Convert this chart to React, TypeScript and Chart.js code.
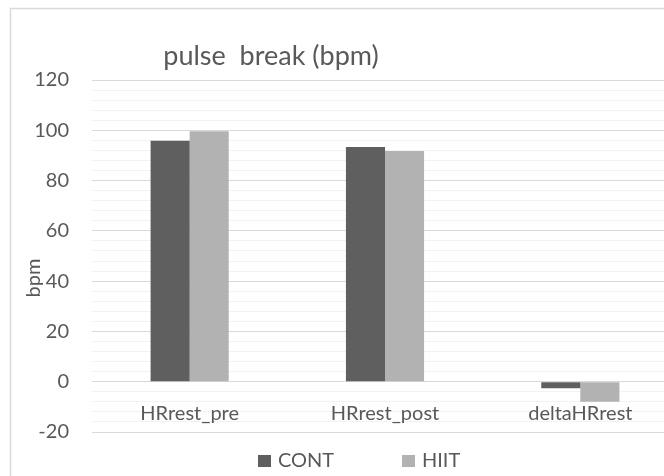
import React, { useEffect, useRef } from "react";
import { Chart, registerables } from "chart.js";

Chart.register(...registerables);

const categories = ["HRrest_pre", "HRrest_post", "deltaHRrest"];
const contValues = [95.8, 93.4, -2.6];
const hiitValues = [99.6, 91.8, -8.0];
const seriesNames = ["CONT", "HIIT"];
const seriesColors = ["#5f5f5f", "#b2b2b2"];
const yMin = -20;
const yMax = 120;
const yMinorStep = 4;
const yMajorStep = 20;
const chartTitle = "pulse  break (bpm)";
const yAxisTitle = "bpm";

const FONT = "Lato";
const TEXT = "#595959";

const decorPlugin = {
  id: "decor",
  beforeDraw(chart: any) {
    const { ctx } = chart;
    ctx.save();
    ctx.fillStyle = "#ffffff";
    ctx.fillRect(0, 0, chart.width, chart.height);
    ctx.strokeStyle = "#d9d9d9";
    ctx.lineWidth = 1.5;
    ctx.strokeRect(10.5, 8.5, chart.width + 40, chart.height + 40);
    ctx.restore();
  },
  afterDraw(chart: any) {
    const { ctx } = chart;
    ctx.save();
    ctx.fillStyle = TEXT;
    // title
    ctx.font = `27px ${FONT}`;
    ctx.textAlign = "center";
    ctx.textBaseline = "alphabetic";
    ctx.fillText(chartTitle, 271, 65);
    // y axis title
    ctx.save();
    ctx.translate(34, 278);
    ctx.rotate(-Math.PI / 2);
    ctx.font = `20px ${FONT}`;
    ctx.textAlign = "center";
    ctx.textBaseline = "middle";
    ctx.fillText(yAxisTitle, 0, 0);
    ctx.restore();
    // legend
    const legendX = [258, 402];
    ctx.font = `20px ${FONT}`;
    ctx.textAlign = "left";
    ctx.textBaseline = "alphabetic";
    chart.data.datasets.forEach((ds: any, i: number) => {
      const x = legendX[i];
      ctx.fillStyle = ds.backgroundColor;
      ctx.fillRect(x, 455, 13, 12);
      ctx.fillStyle = TEXT;
      ctx.fillText(ds.label, x + 20, 467);
    });
    ctx.restore();
  },
};

export default function App() {
  const canvasRef = useRef<HTMLCanvasElement | null>(null);

  useEffect(() => {
    document.body.style.margin = "0";
    const canvas = canvasRef.current!;
    const chart = new Chart(canvas, {
      type: "bar",
      data: {
        labels: categories,
        datasets: [
          {
            label: seriesNames[0],
            data: contValues,
            backgroundColor: seriesColors[0],
            categoryPercentage: 0.4,
            barPercentage: 1,
          },
          {
            label: seriesNames[1],
            data: hiitValues,
            backgroundColor: seriesColors[1],
            categoryPercentage: 0.4,
            barPercentage: 1,
          },
        ],
      },
      options: {
        responsive: false,
        animation: false,
        devicePixelRatio: 1,
        layout: { padding: { left: 0, top: 80, right: 22, bottom: 44 } },
        plugins: {
          legend: { display: false },
          title: { display: false },
          tooltip: { enabled: false },
        },
        scales: {
          x: {
            type: "category",
            position: { y: 0 } as any,
            grid: { display: false, drawTicks: false },
            border: { display: false },
            ticks: {
              color: TEXT,
              font: { family: FONT, size: 20 },
              padding: 20,
              maxRotation: 0,
            },
          },
          y: {
            type: "linear",
            min: yMin,
            max: yMax,
            afterFit: (scale: any) => {
              scale.width = 92;
            },
            border: { display: false },
            grid: {
              drawTicks: false,
              lineWidth: 1,
              color: (ctx: any) =>
                ctx.tick && ctx.tick.value % yMajorStep === 0 ? "#d9d9d9" : "#f2f2f2",
            },
            ticks: {
              stepSize: yMinorStep,
              autoSkip: false,
              color: TEXT,
              font: { family: FONT, size: 20 },
              padding: 23,
              callback: (v: any) => (Number(v) % yMajorStep === 0 ? String(v) : ""),
            },
          },
        },
      },
      plugins: [decorPlugin],
    });
    return () => chart.destroy();
  }, []);

  return (
    <div
      style={{
        position: "absolute",
        left: 0,
        top: 0,
        width: 664,
        height: 476,
        overflow: "hidden",
        background: "#fff",
      }}
    >
      <canvas ref={canvasRef} width={700} height={476} style={{ width: 700, height: 476, display: "block" }} />
    </div>
  );
}
